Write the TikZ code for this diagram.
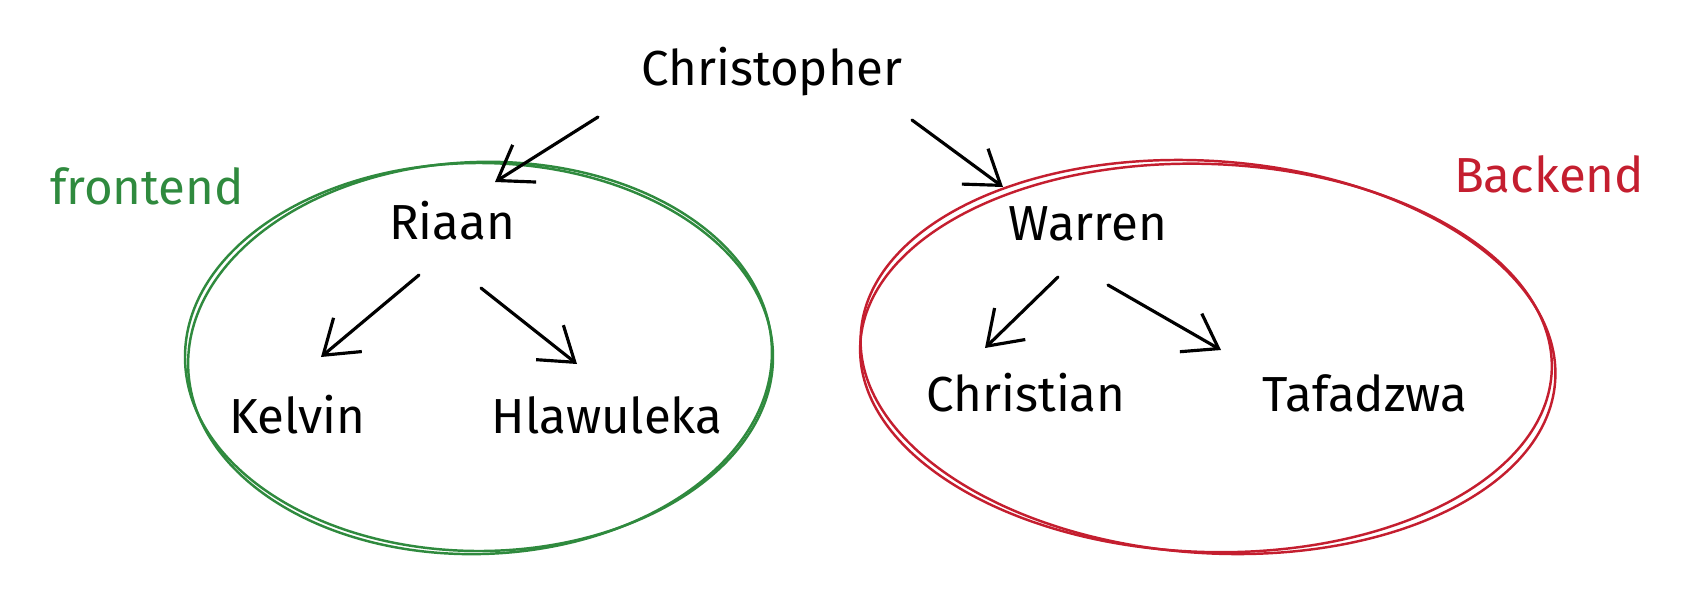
\documentclass[tikz,border=0pt]{standalone}
\usepackage{fontspec}
\setmainfont{Fira Sans}
\usetikzlibrary{arrows.meta}
\definecolor{teamgreen}{HTML}{2F8A3E}
\definecolor{teamred}{HTML}{C41E2F}
\tikzset{
  person/.style={
    inner sep = 2pt,
    font=\fontsize{14}{16}\selectfont
  },
  teamlabel/.style={
    inner sep = 2pt,
    font=\fontsize{14}{16}\selectfont
  },
  arr/.style={
    line width=0.9pt,
    line cap=round,
    -{Straight Barb[length=3.2mm,width=4.4mm,line width=0.9pt]}
  },
  teamline/.style={
    line width=0.7pt
  }
}

\begin{document}
\begin{tikzpicture}
        \useasboundingbox (0,0) rectangle (17.06,-6.06);
        % team outlines
        \draw[teamline, teamgreen] (4.79,-3.57) ellipse (2.94 and 1.94);
        \draw[teamline, teamgreen, rotate around={2:(4.79,-3.57)}] (4.80,-3.58) ellipse (2.92 and 1.96);
        \draw[teamline, teamred, rotate around={-4:(12.08,-3.57)}] (12.08,-3.57) ellipse (3.48 and 1.96);
        \draw[teamline, teamred, rotate around={-2:(12.08,-3.57)}] (12.06,-3.58) ellipse (3.46 and 1.94);
        \node[teamlabel, teamgreen] (front) at (1.47,-1.86) {frontend};
        \node[teamlabel, teamred] (back) at (15.49,-1.74) {Backend};
        % people
        \node[person] (chris) at (7.72,-0.72) {Christopher};
        \node[person] (riaan) at (4.52,-2.21) {Riaan};
        \node[person] (warren) at (10.88,-2.24) {Warren};
        \node[person] (kelvin) at (2.97,-4.15) {Kelvin};
        \node[person] (hlaw) at (6.07,-4.15) {Hlawuleka};
        \node[person] (xian) at (10.26,-3.93) {Christian};
        \node[person] (tafa) at (13.65,-3.93) {Tafadzwa};
        \draw[arr] ([shift={(-1.74,-0.45)}]chris.center) -- ([shift={(0.43,0.39)}]riaan.center);
        \draw[arr] ([shift={(1.40,-0.48)}]chris.center) -- ([shift={(-0.85,0.37)}]warren.center);
        \draw[arr] ([shift={(-0.33,-0.54)}]riaan.center) -- ([shift={(0.24,0.58)}]kelvin.center);
        \draw[arr] ([shift={(0.29,-0.67)}]riaan.center) -- ([shift={(-0.30,0.51)}]hlaw.center);
        \draw[arr] ([shift={(-0.30,-0.53)}]warren.center) -- ([shift={(-0.41,0.45)}]xian.center);
        \draw[arr] ([shift={(0.20,-0.61)}]warren.center) -- ([shift={(-1.44,0.43)}]tafa.center);
    \end{tikzpicture}
\end{document}
